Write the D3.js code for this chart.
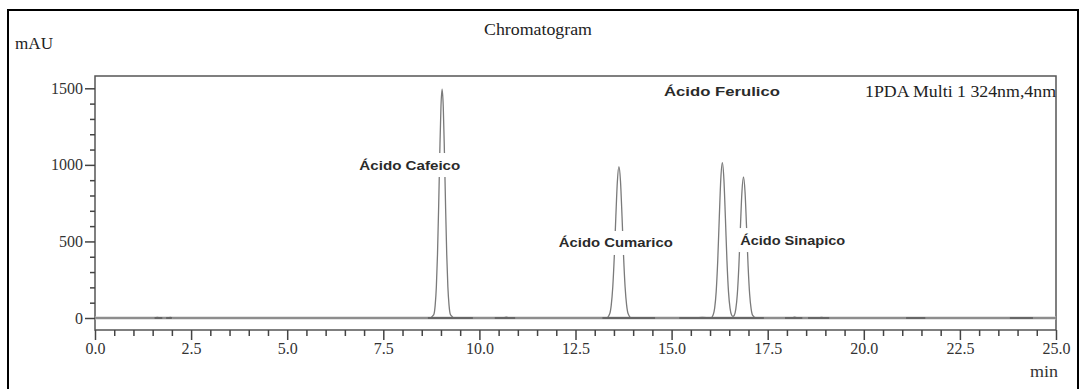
<!DOCTYPE html>
<html>
<head>
<meta charset="utf-8">
<script src="https://cdn.jsdelivr.net/npm/d3@7"></script>
<style>
  body { margin: 0; background: #fff; }
  svg { display: block; }
</style>
</head>
<body>
<svg id="chart"></svg>
<script>
// trace: time (min) and signal (mAU)
const traceTime = [
  0, 1.55, 1.62, 1.70, 1.90, 1.96, 2.02, 8.70,
  8.81, 8.85, 8.88, 8.91, 8.94, 8.97, 9.00, 9.03, 9.06, 9.09, 9.12, 9.15, 9.18, 9.21, 9.25, 9.36,
  10.60, 10.70, 10.80, 13.30,
  13.39, 13.43, 13.47, 13.51, 13.55, 13.59, 13.63, 13.67, 13.71, 13.75, 13.79, 13.83, 13.87, 13.96,
  15.60, 15.80, 16.02,
  16.08, 16.12, 16.16, 16.20, 16.24, 16.28, 16.32, 16.36, 16.40, 16.44, 16.48, 16.52, 16.56, 16.595,
  16.63, 16.67, 16.71, 16.75, 16.79, 16.83, 16.87, 16.91, 16.95, 16.99, 17.03, 17.07, 17.11, 17.20,
  18.10, 18.20, 18.30, 18.80, 18.90, 19.00, 25
];
const traceMAU = [
  0, 0, 4, 0, 0, 4, 0, 0,
  20, 84, 202, 416, 728, 1085, 1380, 1495, 1380, 1085, 728, 416, 202, 84, 20, 0,
  0, 5, 0, 0,
  28, 84, 204, 406, 666, 895, 988, 895, 666, 406, 204, 84, 28, 0,
  0, 4, 0,
  19, 64, 172, 374, 651, 908, 1014, 908, 651, 374, 172, 64, 19, 10,
  17, 58, 157, 340, 592, 825, 922, 825, 592, 340, 157, 58, 17, 0,
  0, 6, 0, 0, 4, 0, 0
];

// integration baselines (start, end in min)
const baseStart = [1.55, 1.85, 8.66, 10.40, 13.20, 15.20, 17.95, 18.55, 21.10, 23.80];
const baseEnd   = [1.75, 2.00, 9.83, 10.93, 14.57, 17.40, 18.40, 19.10, 21.60, 24.40];

// peak names and where their labels sit (min, mAU)
const peakNames = ["Ácido Cafeico", "Ácido Cumarico", "Ácido Ferulico", "Ácido Sinapico"];
const labelTime = [8.19, 13.55, 16.31, 18.15];
const labelMAU  = [999, 490, 1482, 509];
const labelWidth = [101, 114, 116, 105];

const xTicks = d3.range(0, 25.01, 2.5);
const xMinor = d3.range(0, 25.01, 0.5);
const yTicks = [0, 500, 1000, 1500];
const yMinor = d3.range(0, 1501, 100);

const W = 1086, H = 389;
const plot = { left: 95, right: 1056, top: 76, bottom: 330 };

const svg = d3.select("#chart").attr("width", W).attr("height", H);

const x = d3.scaleLinear().domain([0, 25]).range([plot.left, plot.right]);
const y = d3.scaleLinear().domain([0, 1500]).range([318, 88.3]);

// outer frame
svg.append("rect")
  .attr("x", 8).attr("y", 10)
  .attr("width", 1070).attr("height", 390)
  .attr("fill", "none").attr("stroke", "#000").attr("stroke-width", 2);

const serif = "'Liberation Serif', 'Times New Roman', serif";

svg.append("text")
  .attr("x", 538).attr("y", 35)
  .attr("text-anchor", "middle")
  .attr("font-family", serif).attr("font-size", 16)
  .attr("textLength", 108).attr("lengthAdjust", "spacingAndGlyphs")
  .attr("fill", "#222")
  .text("Chromatogram");

svg.append("text")
  .attr("x", 15).attr("y", 49)
  .attr("font-family", serif).attr("font-size", 16)
  .attr("textLength", 38).attr("lengthAdjust", "spacingAndGlyphs")
  .attr("fill", "#222")
  .text("mAU");

// plot frame
svg.append("rect")
  .attr("x", plot.left).attr("y", plot.top)
  .attr("width", plot.right - plot.left).attr("height", plot.bottom - plot.top)
  .attr("fill", "none").attr("stroke", "#555").attr("stroke-width", 1.5);

svg.append("text")
  .attr("x", 1056).attr("y", 97)
  .attr("text-anchor", "end")
  .attr("font-family", serif).attr("font-size", 16)
  .attr("textLength", 191).attr("lengthAdjust", "spacingAndGlyphs")
  .attr("fill", "#222")
  .text("1PDA Multi 1 324nm,4nm");

// axes
const styleAxis = g => {
  g.select(".domain").remove();
  g.selectAll("line").attr("stroke", "#444").attr("stroke-width", 1.5);
  g.selectAll("text").attr("font-family", serif).attr("font-size", 16).attr("fill", "#333");
};

svg.append("g")
  .attr("transform", "translate(" + plot.left + ",0)")
  .call(d3.axisLeft(y).tickValues(yMinor.filter(v => v % 500 !== 0)).tickSize(5).tickFormat(""))
  .call(styleAxis);

svg.append("g")
  .attr("transform", "translate(" + plot.left + ",0)")
  .call(d3.axisLeft(y).tickValues(yTicks).tickSize(10).tickPadding(2).tickFormat(d3.format("d")))
  .call(styleAxis);

svg.append("g")
  .attr("transform", "translate(0," + plot.bottom + ")")
  .call(d3.axisBottom(x).tickValues(xMinor.filter(v => Math.abs(v / 2.5 - Math.round(v / 2.5)) > 1e-6)).tickSize(6).tickFormat(""))
  .call(styleAxis);

svg.append("g")
  .attr("transform", "translate(0," + plot.bottom + ")")
  .call(d3.axisBottom(x).tickValues(xTicks).tickSize(10).tickPadding(3).tickFormat(d3.format(".1f")))
  .call(styleAxis);

svg.append("text")
  .attr("x", 1058).attr("y", 377)
  .attr("text-anchor", "end")
  .attr("font-family", serif).attr("font-size", 16)
  .attr("textLength", 28).attr("lengthAdjust", "spacingAndGlyphs")
  .attr("fill", "#333")
  .text("min");

// zero line
svg.append("line")
  .attr("x1", x(0)).attr("x2", x(25))
  .attr("y1", y(0)).attr("y2", y(0))
  .attr("stroke", "#c8c8c8").attr("stroke-width", 3);

// trace
const points = traceTime.map((t, i) => [t, traceMAU[i]]);
const line = d3.line()
  .x(d => x(d[0]))
  .y(d => y(d[1]))
  .curve(d3.curveMonotoneX);

svg.append("path")
  .datum(points)
  .attr("d", line)
  .attr("fill", "none")
  .attr("stroke", "#7a7a7a")
  .attr("stroke-width", 1.3);

// integration baselines
svg.selectAll(".base")
  .data(baseStart)
  .enter().append("line")
  .attr("class", "base")
  .attr("x1", d => x(d))
  .attr("x2", (d, i) => x(baseEnd[i]))
  .attr("y1", y(0)).attr("y2", y(0))
  .attr("stroke", "#666").attr("stroke-width", 2);

// peak labels on white boxes
const labels = svg.selectAll(".peak-label")
  .data(peakNames)
  .enter().append("g")
  .attr("class", "peak-label");

labels.append("rect")
  .attr("x", (d, i) => x(labelTime[i]) - labelWidth[i] / 2 - 2)
  .attr("y", (d, i) => y(labelMAU[i]) - 12)
  .attr("width", (d, i) => labelWidth[i] + 4)
  .attr("height", 24)
  .attr("fill", "#fff");

labels.append("text")
  .attr("x", (d, i) => x(labelTime[i]))
  .attr("y", (d, i) => y(labelMAU[i]) + 4.5)
  .attr("text-anchor", "middle")
  .attr("font-family", "'Liberation Sans', Arial, sans-serif")
  .attr("font-weight", "bold")
  .attr("font-size", 12.5)
  .attr("textLength", (d, i) => labelWidth[i])
  .attr("lengthAdjust", "spacingAndGlyphs")
  .attr("fill", "#2a2a2a")
  .text(d => d);
</script>
</body>
</html>
